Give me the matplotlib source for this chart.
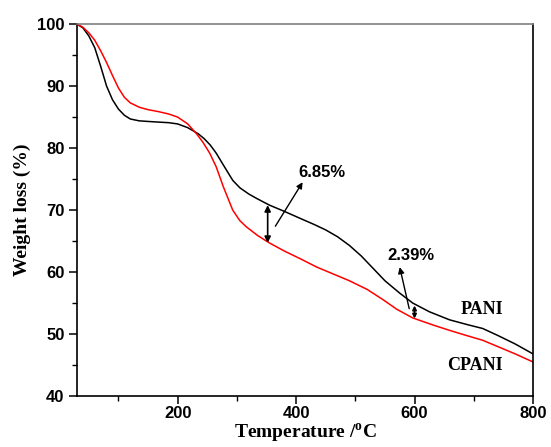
import numpy as np
import matplotlib
matplotlib.use('Agg')
import matplotlib.pyplot as plt

# values
pani_t = [30, 40, 50, 60, 70, 80, 90, 100, 110, 120, 135, 150, 167, 185, 200,
          217, 235, 245, 255, 265, 277, 293, 305, 320, 333, 355, 380, 406,
          430, 450, 470, 490, 510, 530, 550, 575, 597, 625, 659, 690, 715,
          740, 770, 800]
pani_w = [100, 99.4, 98.1, 96.2, 93.2, 90.0, 87.8, 86.3, 85.3, 84.7, 84.4,
          84.3, 84.2, 84.1, 83.9, 83.3, 82.3, 81.5, 80.5, 79.2, 77.3, 74.8,
          73.6, 72.6, 71.9, 70.8, 69.8, 68.7, 67.7, 66.8, 65.7, 64.3, 62.6,
          60.6, 58.6, 56.6, 55.0, 53.6, 52.3, 51.5, 50.9, 49.8, 48.4, 46.8]

cpani_t = [30, 40, 50, 60, 70, 80, 90, 100, 110, 120, 135, 150, 167, 185, 200,
           217, 232, 243, 254, 265, 277, 293, 305, 316, 335, 355, 380, 406,
           435, 460, 490, 520, 546, 570, 597, 630, 659, 690, 715, 740, 770,
           800]
cpani_w = [100, 99.5, 98.6, 97.4, 95.7, 93.8, 91.7, 89.7, 88.2, 87.3, 86.6,
           86.2, 85.9, 85.5, 85.0, 83.9, 82.3, 80.9, 79.2, 77.0, 73.8, 70.0,
           68.3, 67.3, 65.9, 64.7, 63.4, 62.2, 60.8, 59.8, 58.6, 57.2, 55.6,
           54.0, 52.6, 51.5, 50.6, 49.7, 49.0, 48.0, 46.8, 45.5]

sans = 'Liberation Sans'
serif = 'Liberation Serif'
plt.rcParams['mathtext.fontset'] = 'custom'
plt.rcParams['mathtext.bf'] = 'Liberation Serif:bold'
plt.rcParams['mathtext.rm'] = 'Liberation Serif:bold'

fig = plt.figure(figsize=(5.51, 4.47), dpi=100)
ax = fig.add_axes([0.1397, 0.114, 0.8276, 0.832])

ax.plot(pani_t, pani_w, color='black', lw=1.1)
ax.plot(cpani_t, cpani_w, color='red', lw=1.1)

ax.set_xlim(30, 800)
ax.set_ylim(40, 100)
ax.set_xticks([200, 400, 600, 800])
ax.set_xticks([100, 300, 500, 700], minor=True)
ax.set_yticks([40, 50, 60, 70, 80, 90, 100])
ax.set_yticks([45, 55, 65, 75, 85, 95], minor=True)

ax.tick_params(which='major', direction='out', length=5.5, width=1.1,
               top=False, right=False)
ax.tick_params(axis='x', which='major', pad=2)
ax.tick_params(which='minor', direction='out', length=3.5, width=1.0,
               top=False, right=False)
for lab in ax.get_xticklabels() + ax.get_yticklabels():
    lab.set_fontfamily(sans)
    lab.set_fontweight('bold')
    lab.set_fontsize(12)

for s in ['left', 'bottom', 'right']:
    ax.spines[s].set_linewidth(1.2)
    ax.spines[s].set_color('black')
ax.spines['top'].set_color('#808080')
ax.spines['top'].set_linewidth(1.2)

ax.set_xlabel(r'Temperature /$^{\mathbf{o}}$C', fontfamily=serif,
              fontweight='bold', fontsize=14, labelpad=0)
ax.set_ylabel('Weight loss (%)', fontfamily=serif, fontweight='bold',
              fontsize=14, labelpad=4)

# annotations
ax.annotate('', xy=(352, 70.8), xytext=(352, 64.7),
            arrowprops=dict(arrowstyle='<|-|>', color='black', lw=1.2,
                            mutation_scale=9, shrinkA=0, shrinkB=0))
ax.annotate('', xy=(411, 74.5), xytext=(365, 67.4),
            arrowprops=dict(arrowstyle='-|>', color='black', lw=1.0,
                            mutation_scale=9, shrinkA=0, shrinkB=0))
ax.text(443, 76.1, '6.85%', fontfamily=sans, fontweight='bold', fontsize=12,
        ha='center', va='center')

ax.annotate('', xy=(600, 54.6), xytext=(600, 52.5),
            arrowprops=dict(arrowstyle='<|-|>', color='black', lw=1.2,
                            mutation_scale=6, shrinkA=0, shrinkB=0))
ax.annotate('', xy=(575, 60.8), xytext=(591, 54.1),
            arrowprops=dict(arrowstyle='-|>', color='black', lw=1.0,
                            mutation_scale=9, shrinkA=0, shrinkB=0))
ax.text(594, 62.7, '2.39%', fontfamily=sans, fontweight='bold', fontsize=12,
        ha='center', va='center')

ax.text(713, 54, 'PANI', fontfamily=serif, fontweight='bold', fontsize=13,
        ha='center', va='center')
ax.text(702, 45, 'CPANI', fontfamily=serif, fontweight='bold', fontsize=13,
        ha='center', va='center')

fig.savefig('out.png', dpi=100)
